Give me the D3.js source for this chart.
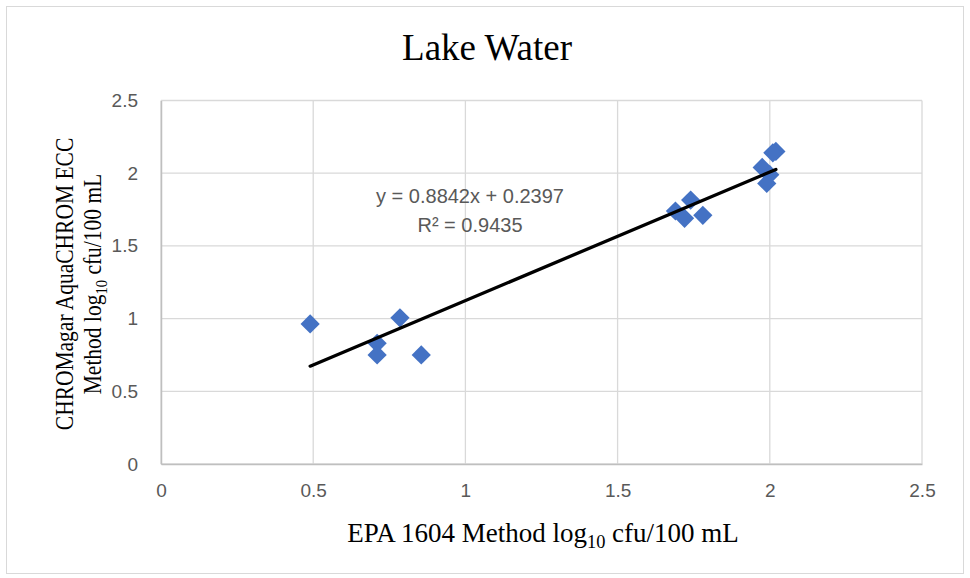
<!DOCTYPE html>
<html>
<head>
<meta charset="utf-8">
<script src="https://cdn.jsdelivr.net/npm/d3@7"></script>
<style>
  body { margin: 0; background: #fff; }
  .tick text { font-family: "Liberation Sans", Arial, sans-serif; font-size: 19px; fill: #595959; }
</style>
</head>
<body>
<svg id="chart" width="970" height="578"></svg>
<script>
// lake water samples: EPA 1604 vs CHROMagar (log10 cfu/100 mL)
var epaValues = [ 0.49, 0.71, 0.71, 0.785, 0.855, 1.69, 1.74, 1.72, 1.78, 1.975, 2.02, 2.0, 1.99, 2.01 ];
var chromValues = [ 0.963, 0.83, 0.75, 1.005, 0.75, 1.74, 1.815, 1.69, 1.71, 2.04, 2.15, 1.99, 1.93, 2.14 ];
var xTicks = [ 0, 0.5, 1, 1.5, 2, 2.5 ];
var yTicks = [ 0, 0.5, 1, 1.5, 2, 2.5 ];
var slope = 0.8842, intercept = 0.2397, rSquared = 0.9435;

var svg = d3.select( '#chart' );

svg.append( 'rect' )
	.attr( 'x', 6.5 ).attr( 'y', 6.5 )
	.attr( 'width', 957 ).attr( 'height', 567 )
	.style( 'fill', '#fff' ).style( 'stroke', '#d9d9d9' );

var x = d3.scaleLinear().domain( [ 0, 2.5 ] ).range( [ 161, 922 ] ),
	y = d3.scaleLinear().domain( [ 0, 2.5 ] ).range( [ 464, 100.5 ] );

// gridlines
svg.append( 'g' ).selectAll( 'line' ).data( xTicks )
	.enter().append( 'line' )
	.attr( 'x1', function( d ) { return x( d ); } )
	.attr( 'x2', function( d ) { return x( d ); } )
	.attr( 'y1', y( 0 ) ).attr( 'y2', y( 2.5 ) )
	.style( 'stroke', '#d9d9d9' ).style( 'stroke-width', 1.3 );

svg.append( 'g' ).selectAll( 'line' ).data( yTicks )
	.enter().append( 'line' )
	.attr( 'y1', function( d ) { return y( d ); } )
	.attr( 'y2', function( d ) { return y( d ); } )
	.attr( 'x1', x( 0 ) ).attr( 'x2', x( 2.5 ) )
	.style( 'stroke', '#d9d9d9' ).style( 'stroke-width', 1.3 );

// axes
var xAxis = svg.append( 'g' )
	.attr( 'transform', 'translate(0,' + y( 0 ) + ')' )
	.call( d3.axisBottom( x ).tickValues( xTicks ).tickSize( 0 ).tickPadding( 20 ).tickFormat( d3.format( '' ) ) );
xAxis.select( '.domain' ).style( 'stroke', '#bfbfbf' ).style( 'stroke-width', 1.5 );

var yAxis = svg.append( 'g' )
	.attr( 'transform', 'translate(' + x( 0 ) + ',0)' )
	.call( d3.axisLeft( y ).tickValues( yTicks ).tickSize( 0 ).tickPadding( 23 ).tickFormat( d3.format( '' ) ) );
yAxis.select( '.domain' ).style( 'stroke', '#bfbfbf' ).style( 'stroke-width', 1.5 );

// points
var pts = epaValues.map( function( v, i ) { return { x: v, y: chromValues[ i ] }; } );
svg.append( 'g' ).selectAll( 'path' ).data( pts )
	.enter().append( 'path' )
	.attr( 'd', d3.symbol().type( d3.symbolSquare ).size( 185 ) )
	.attr( 'transform', function( d ) { return 'translate(' + x( d.x ) + ',' + y( d.y ) + ') rotate(45)'; } )
	.style( 'fill', '#4472c4' );

// linear trendline
var xMin = d3.min( epaValues ), xMax = d3.max( epaValues );
svg.append( 'line' )
	.attr( 'x1', x( xMin ) ).attr( 'y1', y( slope * xMin + intercept ) )
	.attr( 'x2', x( xMax ) ).attr( 'y2', y( slope * xMax + intercept ) )
	.style( 'stroke', '#000' ).style( 'stroke-width', 3.3 ).style( 'stroke-linecap', 'round' );

var eq = svg.append( 'text' )
	.attr( 'x', 470 ).attr( 'y', 203 )
	.attr( 'text-anchor', 'middle' )
	.style( 'font-family', '"Liberation Sans", Arial, sans-serif' )
	.style( 'font-size', '20px' ).style( 'fill', '#595959' );
eq.append( 'tspan' ).text( 'y = ' + slope + 'x + ' + intercept );
eq.append( 'tspan' ).attr( 'x', 470 ).attr( 'dy', 29 ).text( 'R² = ' + rSquared );

// titles
svg.append( 'text' )
	.attr( 'x', 487 ).attr( 'y', 60 )
	.attr( 'text-anchor', 'middle' )
	.style( 'font-family', '"Liberation Serif", "Times New Roman", serif' )
	.style( 'font-size', '37px' ).style( 'fill', '#000' )
	.text( 'Lake Water' );

function logLabel( sel, before, after ) {
	sel.append( 'tspan' ).text( before + 'log' );
	sel.append( 'tspan' ).attr( 'dy', 6 ).style( 'font-size', '0.68em' ).text( '10' );
	sel.append( 'tspan' ).attr( 'dy', -6 ).text( after );
}

var xt = svg.append( 'text' )
	.attr( 'x', 543 ).attr( 'y', 542 )
	.attr( 'text-anchor', 'middle' )
	.style( 'font-family', '"Liberation Serif", "Times New Roman", serif' )
	.style( 'font-size', '27px' ).style( 'fill', '#000' );
logLabel( xt, 'EPA 1604 Method ', ' cfu/100 mL' );

var yt = svg.append( 'g' ).attr( 'transform', 'translate(73,284) rotate(-90) scale(0.86,1)' )
	.style( 'font-family', '"Liberation Serif", "Times New Roman", serif' )
	.style( 'font-size', '25px' ).style( 'fill', '#000' );
yt.append( 'text' ).attr( 'text-anchor', 'middle' ).attr( 'y', 0 ).text( 'CHROMagar AquaCHROM ECC' );
logLabel( yt.append( 'text' ).attr( 'text-anchor', 'middle' ).attr( 'y', 28 ), 'Method ', ' cfu/100 mL' );
</script>
</body>
</html>
